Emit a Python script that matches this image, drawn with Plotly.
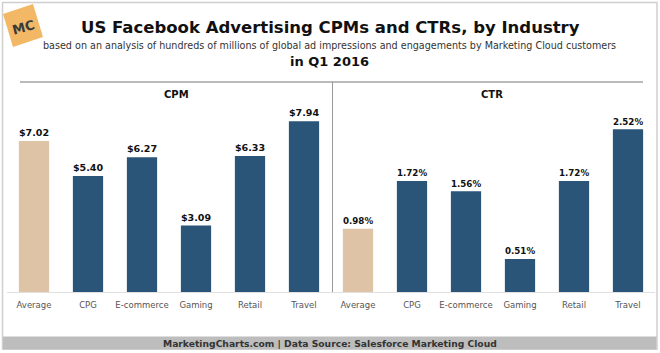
import plotly.graph_objects as go

categories = ["Average", "CPG", "E-commerce", "Gaming", "Retail", "Travel"]
cpm_values = [7.02, 5.40, 6.27, 3.09, 6.33, 7.94]
ctr_values = [0.98, 1.72, 1.56, 0.51, 1.72, 2.52]
cpm_labels = ["$7.02", "$5.40", "$6.27", "$3.09", "$6.33", "$7.94"]
ctr_labels = ["0.98%", "1.72%", "1.56%", "0.51%", "1.72%", "2.52%"]

W, H = 660, 353
def px(x):
    return x / W
def py(y):
    return 1 - y / H

TAN = "#dfc3a7"
BLUE = "#2b5479"
colors = [TAN] + [BLUE] * 5
FONT = "DejaVu Sans"

fig = go.Figure()
fig.add_trace(go.Bar(x=categories, y=cpm_values, text=[f"<b>{t}</b>" for t in cpm_labels],
                     textposition="outside",
                     marker=dict(color=colors, line=dict(width=0)), cliponaxis=False,
                     textfont=dict(family=FONT, size=10.3, color="#111"), xaxis="x", yaxis="y",
                     hoverinfo="skip"))
fig.add_trace(go.Bar(x=categories, y=ctr_values, text=[f"<b>{t}</b>" for t in ctr_labels],
                     textposition="outside",
                     marker=dict(color=colors, line=dict(width=0)), cliponaxis=False,
                     textfont=dict(family=FONT, size=10.3, color="#111"), xaxis="x2", yaxis="y2",
                     hoverinfo="skip"))

base = 292
top = 80
dom = [py(base), py(top)]
h_px = base - top
cpm_scale = 21.5
ctr_scale = 64.6

axis_common = dict(type="category", range=[-0.5, 5.5], showgrid=False, zeroline=False,
                   showline=True, linecolor="#e0e0e0", linewidth=1, ticks="",
                   ticklabelstandoff=5,
                   tickfont=dict(family=FONT, size=8.5, color="#555"), fixedrange=True)
yaxis_common = dict(visible=False, showgrid=False, zeroline=False, fixedrange=True)

fig.update_layout(
    width=W, height=H, margin=dict(l=0, r=0, t=0, b=0),
    paper_bgcolor="white", plot_bgcolor="rgba(0,0,0,0)",
    showlegend=False, bargap=0.44,
    xaxis=dict(domain=[px(7), px(331)], anchor="y", **axis_common),
    yaxis=dict(domain=dom, range=[0, h_px / cpm_scale], anchor="x", **yaxis_common),
    xaxis2=dict(domain=[px(331), px(655)], anchor="y2", **axis_common),
    yaxis2=dict(domain=dom, range=[0, h_px / ctr_scale], anchor="x2", **yaxis_common),
)

shapes = [
    # outer border
    dict(type="rect", xref="paper", yref="paper", x0=px(2.5), x1=px(657), y0=py(349), y1=py(2.5),
         line=dict(color="#cfcfcf", width=1.5), fillcolor="rgba(0,0,0,0)", layer="below"),
    # footer band
    dict(type="rect", xref="paper", yref="paper", x0=px(3), x1=px(656.5), y0=py(349.5), y1=py(336.5),
         line=dict(width=0), fillcolor="#bdbdbd", layer="below"),
    # header rule
    dict(type="line", xref="paper", yref="paper", x0=px(20), x1=px(643), y0=py(82), y1=py(82),
         line=dict(color="#777", width=1)),
    # divider
    dict(type="line", xref="paper", yref="paper", x0=px(332.5), x1=px(332.5), y0=py(82), y1=py(292),
         line=dict(color="#999", width=1)),
    # MC logo
    dict(type="path", xref="paper", yref="paper",
         path=f"M {px(3)},{py(14)} L {px(33)},{py(4)} L {px(43)},{py(37)} L {px(13)},{py(47)} Z",
         fillcolor="#f3b866", line=dict(width=0)),
]

annotations = [
    dict(text="<b>US Facebook Advertising CPMs and CTRs, by Industry</b>", x=px(331), y=py(28),
         font=dict(family=FONT, size=16.5, color="#111")),
    dict(text="based on an analysis of hundreds of millions of global ad impressions and engagements by Marketing Cloud customers",
         x=px(329), y=py(45), font=dict(family=FONT, size=9.6, color="#333")),
    dict(text="<b>in Q1 2016</b>", x=px(329), y=py(61), font=dict(family=FONT, size=13, color="#111")),
    dict(text="<b>CPM</b>", x=px(176), y=py(95), font=dict(family=FONT, size=10, color="#111")),
    dict(text="<b>CTR</b>", x=px(492), y=py(95), font=dict(family=FONT, size=10, color="#111")),
    dict(text="<b>MarketingCharts.com | Data Source: Salesforce Marketing Cloud</b>", x=px(330), y=py(343.5),
         font=dict(family=FONT, size=9.2, color="#333")),
    dict(text="<b>MC</b>", x=px(23), y=py(27), textangle=-15,
         font=dict(family=FONT, size=13, color="#3a3a3a")),
]
for a in annotations:
    a.update(xref="paper", yref="paper", showarrow=False, xanchor="center", yanchor="middle")

fig.update_layout(shapes=shapes, annotations=annotations)
fig.write_html("out.html")
